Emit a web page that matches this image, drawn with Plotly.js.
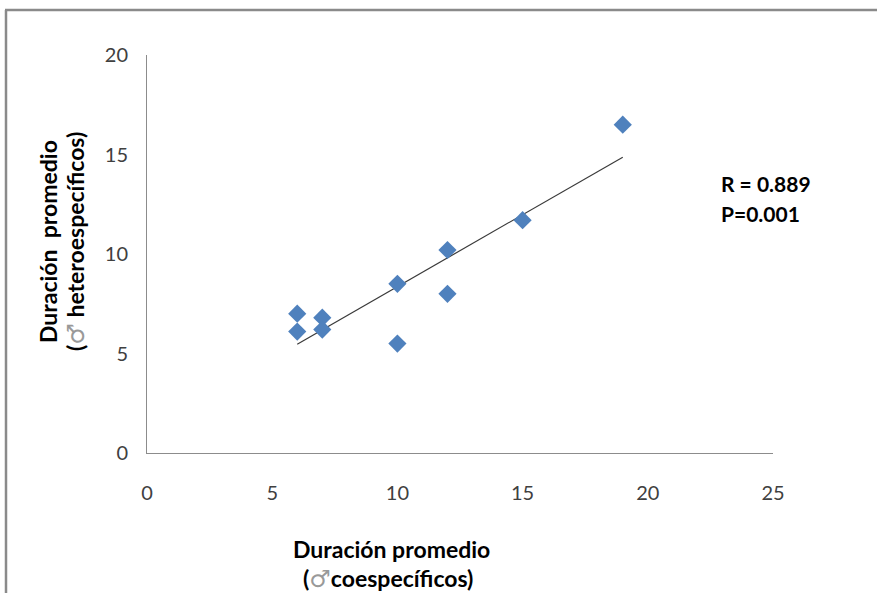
<!DOCTYPE html>
<html>
<head>
<meta charset="utf-8">
<script src="https://cdn.plot.ly/plotly-3.0.1.min.js"></script>
<style>html,body{margin:0;padding:0;background:#fff;}#chart{width:877px;height:593px;}</style>
</head>
<body>
<div id="chart"></div>
<script>
// Data
const coespecificos = [6, 6, 7, 7, 10, 10, 12, 12, 15, 19];
const heteroespecificos = [7.0, 6.1, 6.8, 6.2, 8.5, 5.5, 10.2, 8.0, 11.7, 16.5];
const xTicks = [0, 5, 10, 15, 20, 25];
const yTicks = [0, 5, 10, 15, 20];
const statsText = ["R = 0.889", "P=0.001"];
const maleSign = "♂";
const xTitle1 = "Duración promedio";
const xTitle2 = ["(", "coespecíficos)"];
const yTitle1 = "Duración  promedio";
const yTitle2 = ["(", " heteroespecíficos)"];

// Linear least-squares trendline from the data
const n = coespecificos.length;
const mx = coespecificos.reduce((a, b) => a + b, 0) / n;
const my = heteroespecificos.reduce((a, b) => a + b, 0) / n;
let sxx = 0, sxy = 0;
for (let i = 0; i < n; i++) {
  sxx += (coespecificos[i] - mx) ** 2;
  sxy += (coespecificos[i] - mx) * (heteroespecificos[i] - my);
}
const slope = sxy / sxx;
const intercept = my - slope * mx;
const xMin = Math.min(...coespecificos), xMax = Math.max(...coespecificos);
const trendX = [xMin, xMax];
const trendY = trendX.map(x => intercept + slope * x);

const W = 877, H = 593;
const L = 147, R = 104, T = 55, B = 140;
const pw = W - L - R, ph = H - T - B;
const px = x => (x - L) / pw;
const py = y => (H - B - y) / ph;

const font = "Lato, 'Open Sans', sans-serif";
const sym = '<span style="font-family:\'DejaVu Sans\';font-weight:normal;color:#999999;font-size:24px">' + maleSign + '</span>';

function ann(x, y, text, size, opts) {
  return Object.assign({
    xref: 'paper', yref: 'paper', x: px(x), y: py(y), xanchor: 'center', yanchor: 'middle',
    text: text, showarrow: false, font: {family: font, size: size, color: '#000000'}
  }, opts || {});
}

const traces = [
  {
    x: trendX, y: trendY, type: 'scatter', mode: 'lines',
    line: {color: '#3a3a3a', width: 1.2}, hoverinfo: 'skip', showlegend: false
  },
  {
    x: coespecificos, y: heteroespecificos, type: 'scatter', mode: 'markers',
    marker: {symbol: 'diamond', size: 14, color: '#4F81BD'}, showlegend: false
  }
];

const layout = {
  width: W, height: H,
  margin: {l: L, r: R, t: T, b: B, pad: 0},
  paper_bgcolor: '#ffffff', plot_bgcolor: '#ffffff',
  font: {family: font, size: 20, color: '#404040'},
  showlegend: false,
  xaxis: {
    range: [0, 25], tickvals: xTicks, ticktext: xTicks.map(String),
    showgrid: false, zeroline: false, showline: true, linecolor: '#8c8c8c', linewidth: 1,
    ticks: '', ticklabelstandoff: 22, fixedrange: true
  },
  yaxis: {
    range: [0, 20], tickvals: yTicks, ticktext: yTicks.map(String),
    showgrid: false, zeroline: false, showline: true, linecolor: '#8c8c8c', linewidth: 1,
    ticks: '', ticklabelstandoff: 14, fixedrange: true
  },
  annotations: [
    ann(391, 549, '<b>' + xTitle1 + '</b>', 23),
    ann(388, 578, '<b>' + xTitle2[0] + '</b>' + sym + '<b>' + xTitle2[1] + '</b>', 23),
    ann(48, 242, '<b>' + yTitle1 + '</b>', 23, {textangle: -90}),
    ann(75, 242, '<b>' + yTitle2[0] + '</b>' + sym + '<b>' + yTitle2[1] + '</b>', 23, {textangle: -90}),
    ann(719, 183, '<b>' + statsText[0] + '</b>', 21, {xanchor: 'left'}),
    ann(719, 213, '<b>' + statsText[1] + '</b>', 21, {xanchor: 'left'})
  ],
  shapes: [
    {type: 'line', xref: 'paper', yref: 'paper', x0: px(5), x1: px(880), y0: py(10), y1: py(10),
     line: {color: '#8a8a8a', width: 2.5}},
    {type: 'line', xref: 'paper', yref: 'paper', x0: px(6), x1: px(6), y0: py(10), y1: py(600),
     line: {color: '#8a8a8a', width: 2.5}}
  ]
};

Plotly.newPlot('chart', traces, layout, {displayModeBar: false, staticPlot: true});
</script>
</body>
</html>
